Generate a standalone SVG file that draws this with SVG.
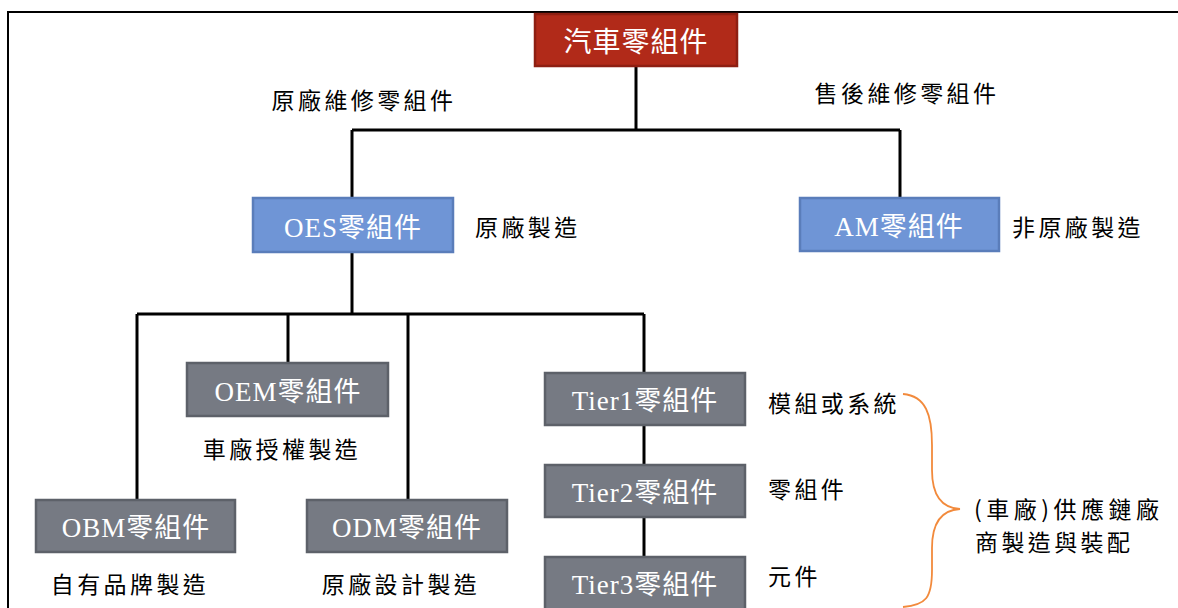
<svg xmlns="http://www.w3.org/2000/svg" width="1178" height="608" viewBox="0 0 1178 608">
<style>
.frame{fill:none;stroke:#000;stroke-width:2}
.conn{fill:none;stroke:#000;stroke-width:3}
.red{fill:#B12A19;stroke:#8E1F12;stroke-width:2.5}
.blue{fill:#6F95D6;stroke:#5A7DBA;stroke-width:2.5}
.gray{fill:#767A83;stroke:#5D6169;stroke-width:2.5}
.bt{font-family:"Liberation Serif","Noto Sans CJK TC",serif;font-size:27px;fill:#fff;text-anchor:middle;dominant-baseline:central;letter-spacing:1px}
.lb{font-family:"Noto Sans CJK TC",sans-serif;font-size:23px;fill:#000;dominant-baseline:central;letter-spacing:3.4px}
.mid{text-anchor:middle}
.brace{fill:none;stroke:#F28A3C;stroke-width:1.8}
</style>
<rect width="1178" height="608" fill="#fff"/>
<path class="frame" d="M8 608 V12 H1178"/>
<g id="connectors">
<path class="conn" d="M636 66 V130"/>
<path class="conn" d="M352 130 H900"/>
<path class="conn" d="M352 130 V198"/>
<path class="conn" d="M900 130 V198"/>
<path class="conn" d="M352 252 V314"/>
<path class="conn" d="M137 314 H644"/>
<path class="conn" d="M137 314 V500"/>
<path class="conn" d="M288 314 V363"/>
<path class="conn" d="M408 314 V500"/>
<path class="conn" d="M644 314 V373"/>
<path class="conn" d="M644 425 V465"/>
<path class="conn" d="M644 517 V557"/>
</g>
<g id="n-root"><rect class="red" x="535" y="14" width="202" height="52"/><text class="bt" x="636" y="42" style="font-size:28px">汽車零組件</text></g>
<g id="n-oes"><rect class="blue" x="253" y="198" width="200" height="54"/><text class="bt" x="353" y="228">OES零組件</text></g>
<g id="n-am"><rect class="blue" x="800" y="198" width="199" height="53"/><text class="bt" x="899" y="227">AM零組件</text></g>
<g id="n-oem"><rect class="gray" x="187" y="363" width="201" height="53"/><text class="bt" x="288" y="392">OEM零組件</text></g>
<g id="n-obm"><rect class="gray" x="36" y="500" width="199" height="52"/><text class="bt" x="136" y="528">OBM零組件</text></g>
<g id="n-odm"><rect class="gray" x="307" y="500" width="200" height="52"/><text class="bt" x="407" y="528">ODM零組件</text></g>
<g id="n-tier1"><rect class="gray" x="545" y="373" width="200" height="52"/><text class="bt" x="645" y="401">Tier1零組件</text></g>
<g id="n-tier2"><rect class="gray" x="545" y="465" width="200" height="52"/><text class="bt" x="645" y="493">Tier2零組件</text></g>
<g id="n-tier3"><rect class="gray" x="545" y="557" width="200" height="60"/><text class="bt" x="645" y="585">Tier3零組件</text></g>
<g id="labels">
<text class="lb mid" x="364" y="99">原廠維修零組件</text>
<text class="lb mid" x="907" y="92">售後維修零組件</text>
<text class="lb" x="475" y="226">原廠製造</text>
<text class="lb" x="1012" y="226">非原廠製造</text>
<text class="lb mid" x="282" y="448">車廠授權製造</text>
<text class="lb mid" x="130" y="583">自有品牌製造</text>
<text class="lb mid" x="401" y="583">原廠設計製造</text>
<text class="lb" x="768" y="402">模組或系統</text>
<text class="lb" x="768" y="488">零組件</text>
<text class="lb" x="768" y="575">元件</text>
<text class="lb" x="974" y="508" style="letter-spacing:4.5px">(車廠)供應鏈廠</text>
<text class="lb" x="975" y="541">商製造與裝配</text>
</g>
<path class="brace" d="M903 394 C926 396 932 415 932 445 L932 470 C932 495 942 508 960 509 C942 510 932 523 932 548 L932 570 C932 598 926 605 903 607"/>
</svg>
